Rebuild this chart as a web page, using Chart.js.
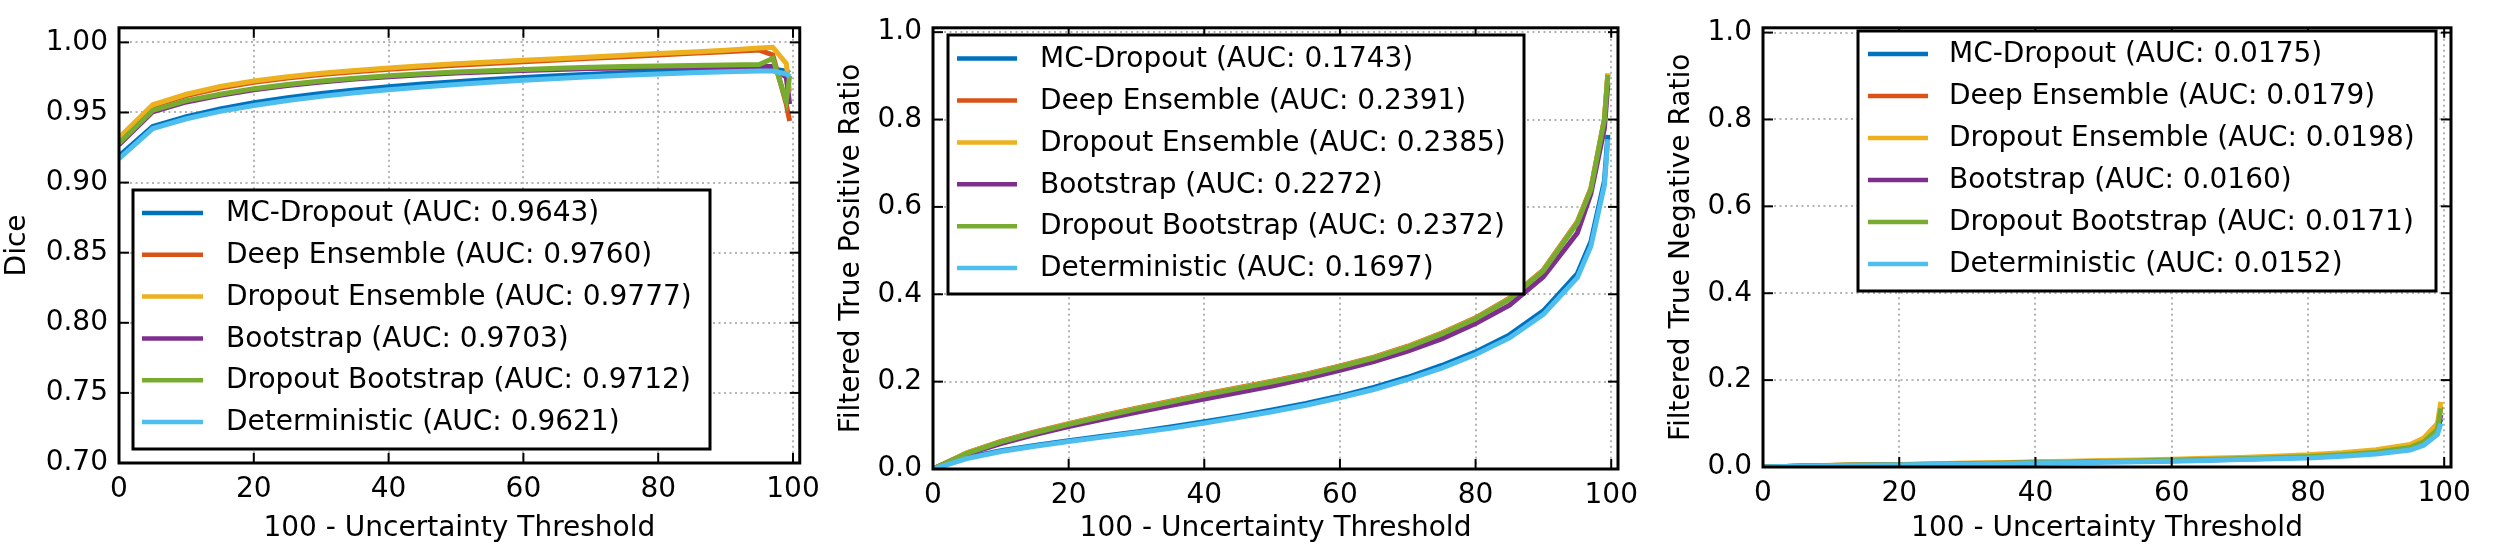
<!DOCTYPE html>
<html><head><meta charset="utf-8">
<script src="https://cdn.jsdelivr.net/npm/chart.js@4/dist/chart.umd.min.js"></script>
<style>
html,body{margin:0;padding:0;background:#fff;}
#wrap{position:relative;width:2500px;height:547px;background:#fff;}
.p{position:absolute;top:0;height:547px;}
</style></head><body>
<div id="wrap">
<div class="p" style="left:0;width:830px"><canvas id="c1"></canvas></div>
<div class="p" style="left:830px;width:830px"><canvas id="c2"></canvas></div>
<div class="p" style="left:1660px;width:840px"><canvas id="c3"></canvas></div>
</div>
<script>
// ---------- data ----------
const thresholds = [0,5,10,15,20,25,30,35,40,45,50,55,60,65,70,75,80,85,90,95,97,99,99.5];
const methods = ["MC-Dropout","Deep Ensemble","Dropout Ensemble","Bootstrap","Dropout Bootstrap","Deterministic"];
const xTicks = [0,20,40,60,80,100];
const diceTicks = [0.70,0.75,0.80,0.85,0.90,0.95,1.00];
const ratioTicks = [0.0,0.2,0.4,0.6,0.8,1.0];

const diceAUC = ["0.9643","0.9760","0.9777","0.9703","0.9712","0.9621"];
const tpAUC   = ["0.1743","0.2391","0.2385","0.2272","0.2372","0.1697"];
const tnAUC   = ["0.0175","0.0179","0.0198","0.0160","0.0171","0.0152"];

const diceMC      = [0.919,0.9400,0.9470,0.9525,0.9570,0.9605,0.9635,0.9660,0.9683,0.9703,0.9720,0.9736,0.9750,0.9762,0.9773,0.9783,0.9792,0.9800,0.9806,0.9810,0.9810,0.9795,0.9780];
const diceDeepEns = [0.930,0.9545,0.9620,0.9675,0.9715,0.9745,0.9770,0.9790,0.9808,0.9823,0.9837,0.9850,0.9862,0.9874,0.9886,0.9898,0.9910,0.9922,0.9933,0.9945,0.9910,0.9560,0.9440];
const diceDropEns = [0.932,0.9555,0.9630,0.9685,0.9725,0.9755,0.9780,0.9800,0.9818,0.9833,0.9847,0.9860,0.9872,0.9884,0.9896,0.9908,0.9920,0.9932,0.9944,0.9960,0.9965,0.9850,0.9650];
const diceBoot    = [0.927,0.9505,0.9575,0.9622,0.9662,0.9693,0.9718,0.9738,0.9755,0.9769,0.9781,0.9791,0.9800,0.9807,0.9813,0.9818,0.9822,0.9825,0.9827,0.9828,0.9828,0.9750,0.9560];
const diceDropBoot= [0.928,0.9515,0.9585,0.9630,0.9670,0.9700,0.9725,0.9745,0.9762,0.9776,0.9788,0.9798,0.9807,0.9815,0.9822,0.9828,0.9832,0.9835,0.9838,0.9842,0.9885,0.9580,0.9760];
const diceDet     = [0.917,0.9385,0.9455,0.9508,0.9550,0.9585,0.9615,0.9640,0.9662,0.9682,0.9700,0.9716,0.9730,0.9743,0.9755,0.9765,0.9775,0.9783,0.9790,0.9795,0.9795,0.9775,0.9755];

const tpMC       = [0,0.026,0.042,0.054,0.065,0.075,0.085,0.096,0.108,0.121,0.135,0.150,0.167,0.187,0.210,0.237,0.268,0.307,0.362,0.447,0.520,0.660,0.765];
const tpDeepEns  = [0,0.037,0.063,0.085,0.104,0.122,0.139,0.155,0.171,0.186,0.201,0.217,0.236,0.256,0.281,0.311,0.346,0.391,0.456,0.566,0.642,0.802,0.905];
const tpDropEns  = [0,0.037,0.062,0.084,0.103,0.121,0.138,0.154,0.170,0.185,0.200,0.216,0.235,0.255,0.280,0.310,0.345,0.390,0.455,0.565,0.640,0.800,0.905];
const tpBoot     = [0,0.034,0.058,0.079,0.097,0.114,0.130,0.145,0.160,0.175,0.190,0.207,0.226,0.246,0.270,0.298,0.333,0.375,0.440,0.540,0.630,0.780,0.880];
const tpDropBoot = [0,0.036,0.062,0.083,0.102,0.120,0.137,0.153,0.169,0.184,0.199,0.215,0.234,0.254,0.279,0.309,0.344,0.389,0.454,0.563,0.640,0.800,0.902];
const tpDet      = [0,0.024,0.040,0.052,0.063,0.073,0.083,0.093,0.105,0.118,0.131,0.146,0.163,0.182,0.205,0.231,0.262,0.300,0.354,0.438,0.510,0.650,0.755];

const tnMC       = [0,0.0018,0.0035,0.0045,0.0053,0.0065,0.0078,0.0088,0.0105,0.0115,0.0130,0.0140,0.0160,0.0175,0.0195,0.0220,0.0245,0.0290,0.0350,0.0460,0.0590,0.0880,0.110];
const tnDeepEns  = [0,0.0018,0.0036,0.0046,0.0054,0.0067,0.0080,0.0090,0.0108,0.0118,0.0133,0.0143,0.0162,0.0180,0.0200,0.0225,0.0250,0.0295,0.0355,0.0470,0.0600,0.0900,0.140];
const tnDropEns  = [0,0.0020,0.0040,0.0050,0.0060,0.0075,0.0090,0.0100,0.0120,0.0130,0.0150,0.0160,0.0180,0.0200,0.0220,0.0250,0.0280,0.0330,0.0400,0.0520,0.0670,0.1000,0.150];
const tnBoot     = [0,0.0016,0.0032,0.0041,0.0048,0.0060,0.0071,0.0080,0.0096,0.0105,0.0118,0.0128,0.0145,0.0160,0.0178,0.0200,0.0225,0.0265,0.0320,0.0420,0.0540,0.0800,0.120];
const tnDropBoot = [0,0.0017,0.0034,0.0044,0.0051,0.0063,0.0076,0.0086,0.0102,0.0112,0.0127,0.0137,0.0154,0.0170,0.0190,0.0215,0.0240,0.0283,0.0340,0.0450,0.0580,0.0860,0.135];
const tnDet      = [0,0.0015,0.0030,0.0040,0.0045,0.0055,0.0065,0.0075,0.0090,0.0100,0.0110,0.0120,0.0135,0.0150,0.0170,0.0190,0.0210,0.0250,0.0300,0.0390,0.0500,0.0750,0.100];

// ---------- style ----------
const colors = ["#0072BD","#D95319","#EDB120","#7E2F8E","#77AC30","#4DBEEE"];
const FONT = "DejaVu Sans";
Chart.defaults.font.family = FONT;
Chart.defaults.font.size = 28;
Chart.defaults.color = "#000";

const framePlugin = {
  id: "frame",
  afterDatasetsDraw(chart, args, L) {
    const {ctx, chartArea: a, scales: {x, y}} = chart;
    const line = (x1,y1,x2,y2) => { ctx.beginPath(); ctx.moveTo(x1,y1); ctx.lineTo(x2,y2); ctx.stroke(); };
    ctx.save();
    ctx.strokeStyle = "#000"; ctx.lineWidth = 2; ctx.setLineDash([]);
    x.ticks.forEach(t => { const p = x.getPixelForValue(t.value); line(p,a.bottom,p,a.bottom-10); line(p,a.top,p,a.top+10); });
    y.ticks.forEach(t => { const p = y.getPixelForValue(t.value); line(a.left,p,a.left+10,p); line(a.right,p,a.right-10,p); });
    ctx.lineWidth = 3;
    ctx.strokeRect(a.left, a.top, a.right-a.left, a.bottom-a.top);
    // legend
    ctx.fillStyle = "#fff";
    ctx.fillRect(L.x0, L.y0, L.x1-L.x0, L.y1-L.y0);
    ctx.strokeStyle = "#000"; ctx.lineWidth = 3;
    ctx.strokeRect(L.x0, L.y0, L.x1-L.x0, L.y1-L.y0);
    ctx.font = "28px '" + FONT + "'";
    ctx.textBaseline = "middle"; ctx.textAlign = "left";
    chart.data.datasets.forEach((d,i) => {
      const yy = L.row0 + i*L.step;
      ctx.strokeStyle = d.borderColor; ctx.lineWidth = 4.5;
      line(L.s0, yy, L.s1, yy);
      ctx.fillStyle = "#000";
      ctx.fillText(d.label, L.tx, yy + 1);
    });
    ctx.restore();
  }
};

function makeChart(id, series, aucs, yTicks, yMin, yFmt, yTitle, geo) {
  const datasets = series.map((s,i) => ({
    label: methods[i] + " (AUC: " + aucs[i] + ")",
    data: thresholds.map((t,k) => ({x: t, y: s[k]})),
    borderColor: colors[i],
    backgroundColor: colors[i],
    borderWidth: 5,
    pointRadius: 0,
    tension: 0,
    fill: false,
    order: 10 - i
  }));
  return new Chart(document.getElementById(id), {
    type: "line",
    data: {datasets},
    plugins: [framePlugin],
    options: {
      animation: false,
      responsive: true,
      maintainAspectRatio: false,
      devicePixelRatio: 1,
      layout: {padding: {top: geo.top, right: geo.right, left: 0, bottom: 0}},
      plugins: {legend: {display: false}, tooltip: {enabled: false}, frame: geo.legend},
      scales: {
        x: {
          type: "linear", min: 0, max: 101,
          afterBuildTicks: s => { s.ticks = xTicks.map(v => ({value: v})); },
          afterFit: s => { s.height = geo.xh; },
          ticks: {padding: 10, font: {size: 28, lineHeight: 1.2}, maxRotation: 0, autoSkip: false},
          grid: {color: "#b4b4b4", lineWidth: 2, drawTicks: false},
          border: {display: false, dash: [2, 3.5]},
          title: {display: true, text: "100 - Uncertainty Threshold", font: {size: 28, lineHeight: 1}, padding: {top: 0, bottom: 4}}
        },
        y: {
          type: "linear", min: yMin, max: geo.ymax,
          afterBuildTicks: s => { s.ticks = yTicks.map(v => ({value: v})); },
          afterFit: s => { s.width = geo.yw; },
          ticks: {padding: 11, font: {size: 28}, callback: v => Number(v).toFixed(yFmt), autoSkip: false},
          grid: {color: "#b4b4b4", lineWidth: 2, drawTicks: false},
          border: {display: false, dash: [2, 3.5]},
          title: {display: true, text: yTitle, font: {size: 28, lineHeight: 1}, padding: {top: geo.ytp, bottom: 0}}
        }
      }
    }
  });
}

makeChart("c1", [diceMC,diceDeepEns,diceDropEns,diceBoot,diceDropBoot,diceDet], diceAUC, diceTicks, 0.70, 2, "Dice",
  {top: 15, right: 27, xh: 84, yw: 119, ymax: 1.0104, ytp: 3.5,
   legend: {x0: 133, y0: 190, x1: 710, y1: 449, row0: 213, step: 41.8, s0: 142, s1: 203, tx: 226}});
makeChart("c2", [tpMC,tpDeepEns,tpDropEns,tpBoot,tpDropBoot,tpDet], tpAUC, ratioTicks, 0, 1, "Filtered True Positive Ratio",
  {top: 21, right: 42, xh: 78, yw: 103, ymax: 1.01, ytp: 8,
   legend: {x0: 118, y0: 35, x1: 694, y1: 294, row0: 58.6, step: 41.9, s0: 127, s1: 187, tx: 210}});
makeChart("c3", [tnMC,tnDeepEns,tnDropEns,tnBoot,tnDropBoot,tnDet], tnAUC, ratioTicks, 0, 1, "Filtered True Negative Ratio",
  {top: 16, right: 49, xh: 80, yw: 103, ymax: 1.011, ytp: 7.5,
   legend: {x0: 198, y0: 31, x1: 776, y1: 291, row0: 54, step: 42, s0: 208, s1: 268, tx: 289}});
</script>
</body></html>
